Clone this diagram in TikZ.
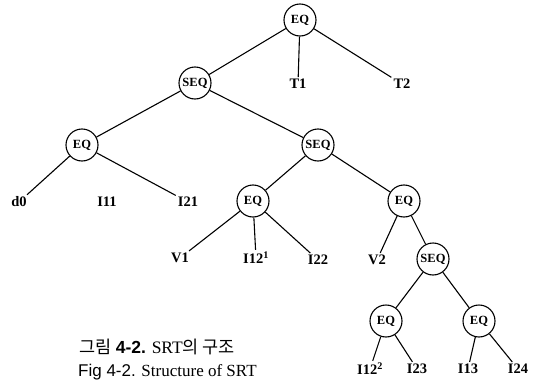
\documentclass[tikz,border=0pt]{standalone}
\usepackage{fontspec}
\setmainfont{Liberation Serif}
\setsansfont{Liberation Sans}
\newfontfamily\krfont{Noto Sans CJK KR}
\usepackage{tikz}
\usetikzlibrary{positioning}

\tikzset{
  op/.style={circle, draw, line width=1.1pt, minimum size=32pt, inner sep=0pt, font=\bfseries\fontsize{12.5}{12.5}\selectfont},
  leaf/.style={inner sep=2pt, font=\bfseries\fontsize{14.5}{14.5}\selectfont},
  edge/.style={line width=1.1pt}
}

\begin{document}
\begin{tikzpicture}[x=1pt,y=-1pt]
        \useasboundingbox (0,0) rectangle (539,391);

        % Operator nodes
        \node[op] (root) at (300,20) {EQ};
        \node[op] (seqa) at (195,83) {SEQ};
        \node[op] (eqa) at (82,145) {EQ};
        \node[op] (seqb) at (318,145) {SEQ};
        \node[op] (eqb) at (253,201) {EQ};
        \node[op] (eqc) at (404,201) {EQ};
        \node[op] (seqc) at (433,259) {SEQ};
        \node[op] (eqd) at (386,321) {EQ};
        \node[op] (eqe) at (479,321) {EQ};

        % Leaves
        \node[leaf] (t1) at (298,84) {T1};
        \node[leaf] (t2) at (402,84) {T2};
        \node[leaf] (d0) at (19,202) {d0};
        \node[leaf] (i11) at (107,202) {I11};
        \node[leaf] (i21) at (188,202) {I21};
        \node[leaf] (v1) at (180,258) {V1};
        \node[leaf] (i12a) at (256,258) {I12\textsuperscript{1}};
        \node[leaf] (i22) at (318,260) {I22};
        \node[leaf] (v2) at (377,260) {V2};
        \node[leaf] (i12b) at (370,369) {I12\textsuperscript{2}};
        \node[leaf] (i23) at (417,369) {I23};
        \node[leaf] (i13) at (468,369) {I13};
        \node[leaf] (i24) at (518,369) {I24};

        % Edges
        \draw[edge] (root) -- (seqa);
        \draw[edge] (root) -- (t1);
        \draw[edge] (root) -- (t2);
        \draw[edge] (seqa) -- (eqa);
        \draw[edge] (seqa) -- (seqb);
        \draw[edge] (eqa) -- (d0);
        \draw[edge] (eqa) -- (i21);
        \draw[edge] (seqb) -- (eqb);
        \draw[edge] (seqb) -- (eqc);
        \draw[edge] (eqb) -- (v1);
        \draw[edge] (eqb) -- (i12a);
        \draw[edge] (eqb) -- (i22);
        \draw[edge] (eqc) -- (v2);
        \draw[edge] (eqc) -- (seqc);
        \draw[edge] (seqc) -- (eqd);
        \draw[edge] (seqc) -- (eqe);
        \draw[edge] (eqd) -- (i12b);
        \draw[edge] (eqd) -- (i23);
        \draw[edge] (eqe) -- (i13);
        \draw[edge] (eqe) -- (i24);

        % Caption
        \node[anchor=west, inner sep=0pt, font=\fontsize{17.5}{17.5}\selectfont] (capkr) at (79,347)
          {{\krfont 그림} {\sffamily\bfseries 4-2.} SRT{\krfont 의 구조}};
        \node[anchor=west, inner sep=0pt, font=\fontsize{17}{17}\selectfont] (capen) at (78,372)
          {{\sffamily Fig 4-2.} Structure of SRT};
\end{tikzpicture}
\end{document}
